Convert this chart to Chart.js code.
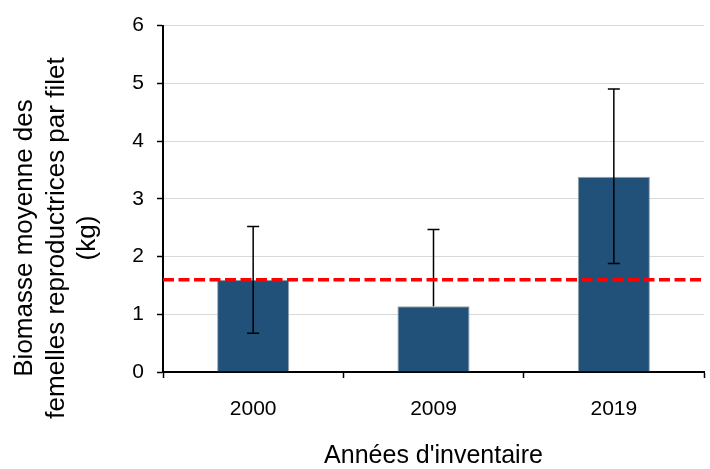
<!DOCTYPE html>
<html>
<head>
<meta charset="utf-8">
<script src="https://cdn.jsdelivr.net/npm/chart.js@4"></script>
<style>
  html, body { margin: 0; padding: 0; background: #fff; }
  #wrap { width: 710px; height: 469px; }
</style>
</head>
<body>
<div id="wrap"><canvas id="myChart"></canvas></div>
<script>
// values
const years = ['2000', '2009', '2019'];
const biomass = [1.60, 1.14, 3.38];
const errLow = [0.67, null, 1.88];
const errHigh = [2.52, 2.47, 4.90];
const refLine = 1.6;
const yTicks = [0, 1, 2, 3, 4, 5, 6];
const yTitle = ['Biomasse moyenne des', 'femelles reproductrices par filet', '(kg)'];

Chart.defaults.font.family = '"Liberation Sans", Arial, sans-serif';
Chart.defaults.color = '#000';

// error bars drawn on top of the bars
const errorBars = {
    id: 'errorBars',
    afterDatasetsDraw(chart) {
        const ctx = chart.ctx;
        const x = chart.scales.x, y = chart.scales.y;
        ctx.save();
        ctx.strokeStyle = '#000';
        ctx.lineWidth = 1.5;
        years.forEach((yr, i) => {
            const cx = x.getPixelForValue(i);
            const top = y.getPixelForValue(errHigh[i]);
            const bot = y.getPixelForValue(errLow[i] != null ? errLow[i] : biomass[i]);
            ctx.beginPath();
            ctx.moveTo(cx, top);
            ctx.lineTo(cx, bot);
            ctx.moveTo(cx - 6, top);
            ctx.lineTo(cx + 6, top);
            if (errLow[i] != null) {
                ctx.moveTo(cx - 6, bot);
                ctx.lineTo(cx + 6, bot);
            }
            ctx.stroke();
        });
        ctx.restore();
    }
};

// red dashed reference line
const refPlugin = {
    id: 'refPlugin',
    afterDatasetsDraw(chart) {
        const ctx = chart.ctx;
        const area = chart.chartArea;
        const py = chart.scales.y.getPixelForValue(refLine);
        ctx.save();
        ctx.strokeStyle = '#ff0000';
        ctx.lineWidth = 3.5;
        ctx.setLineDash([11, 4.5]);
        ctx.beginPath();
        ctx.moveTo(area.left, py);
        ctx.lineTo(area.right, py);
        ctx.stroke();
        ctx.restore();
    }
};

// y title sits lower than the axis centre in the original, so draw it here
const yTitlePlugin = {
    id: 'yTitlePlugin',
    afterDraw(chart) {
        const ctx = chart.ctx;
        ctx.save();
        ctx.font = '26px "Liberation Sans", Arial, sans-serif';
        ctx.fillStyle = '#000';
        ctx.textAlign = 'center';
        ctx.textBaseline = 'alphabetic';
        ctx.translate(0, 238);
        ctx.rotate(-Math.PI / 2);
        yTitle.forEach((line, i) => {
            ctx.fillText(line, 0, 32 + i * 31.5);
        });
        ctx.restore();
    }
};

const data = {
    labels: years,
    datasets: [{
        data: biomass,
        backgroundColor: '#215079',
        borderColor: '#9aa3ab',
        borderWidth: 1,
        categoryPercentage: 1,
        barPercentage: 0.4
    }]
};

const config = {
    type: 'bar',
    data,
    options: {
        responsive: true,
        maintainAspectRatio: false,
        animation: false,
        layout: { padding: { top: 24, right: 6, left: 0, bottom: 0 } },
        plugins: {
            legend: { display: false },
            tooltip: { enabled: false }
        },
        scales: {
            x: {
                offset: true,
                grid: {
                    offset: true,
                    drawOnChartArea: false,
                    tickColor: '#000',
                    tickLength: 6,
                    tickWidth: 1.5
                },
                border: { color: '#000', width: 2 },
                ticks: { font: { size: 21 }, padding: 19 },
                title: {
                    display: true,
                    text: "Années d'inventaire",
                    font: { size: 25, lineHeight: 1 },
                    padding: { top: 0, bottom: 0 }
                },
                afterFit(scale) { scale.height = 97; }
            },
            y: {
                min: 0,
                max: 6,
                afterBuildTicks(scale) { scale.ticks = yTicks.map(v => ({ value: v })); },
                grid: {
                    color: '#d9d9d9',
                    tickColor: '#000',
                    tickLength: 6,
                    tickWidth: 1.5
                },
                border: { color: '#000', width: 2 },
                ticks: { font: { size: 21 }, padding: 13 },
                afterFit(scale) { scale.width = 163; }
            }
        }
    },
    plugins: [errorBars, refPlugin, yTitlePlugin]
};

const myChart = new Chart(document.getElementById('myChart'), config);
</script>
</body>
</html>
